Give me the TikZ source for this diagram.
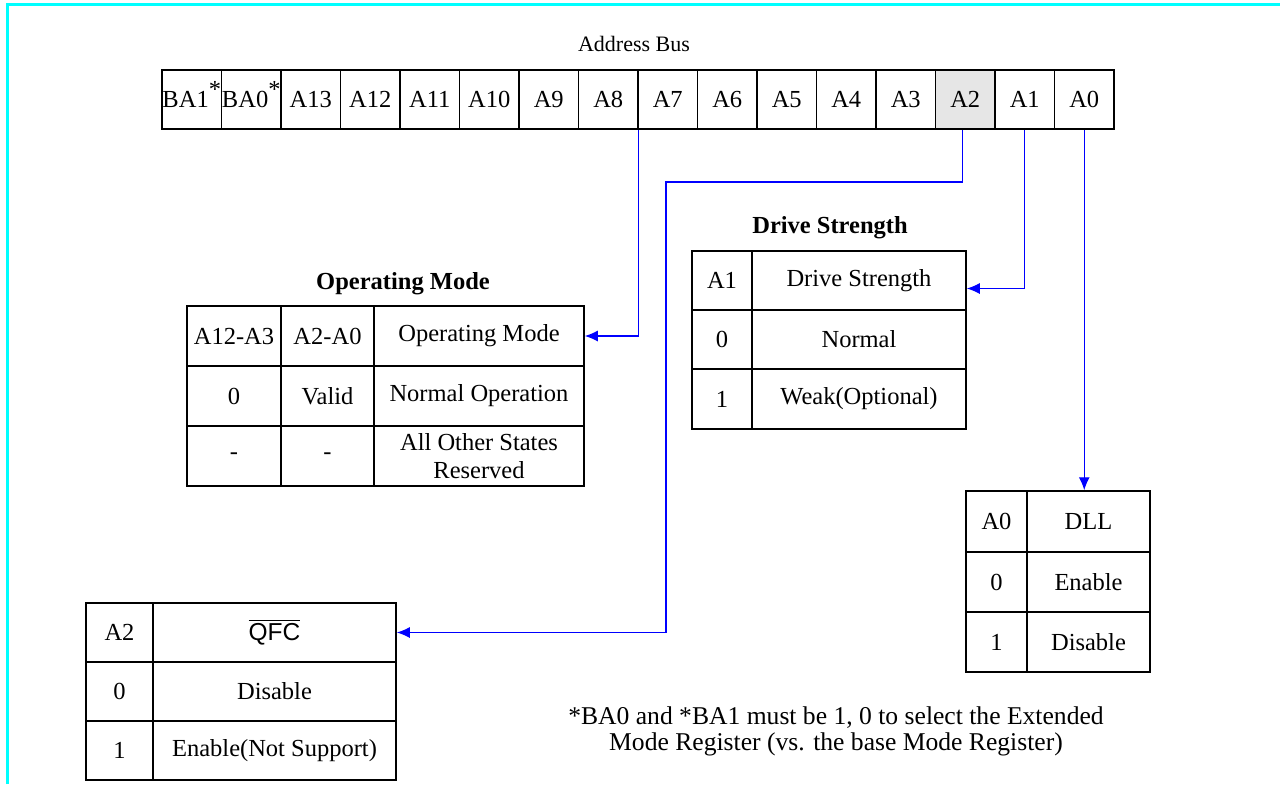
\documentclass[tikz,border=0pt]{standalone}
\usepackage{fontspec}
\setmainfont{Liberation Serif}
\newfontfamily\qfcfont{Liberation Sans}
\usetikzlibrary{arrows.meta}
\definecolor{cyanb}{RGB}{0,255,255}
\definecolor{arrowblue}{RGB}{0,0,255}
\definecolor{cellgray}{RGB}{230,230,230}
\newcommand{\tcell}[6]{%
  \pgfmathsetmacro{\tcw}{0.5*(#4-#2)}%
  \pgfmathsetmacro{\tch}{0.5*(#5-#3)}%
  \node[tcellst, minimum width=\tcw pt, minimum height=\tch pt] (#1) at ({(#2+#4)/2},{(#3+#5)/2}) {#6};}
\newcommand{\bast}{\smash{\raisebox{0.42em}{*}}}
\begin{document}
\begin{tikzpicture}[x=0.5pt,y=-0.5pt,
  every node/.style={font=\fontsize{12.25}{14}\selectfont},
  tcellst/.style={draw=black, line width=0.75pt, inner sep=0pt, align=center},
  buscell/.style={tcellst, minimum width=29.75pt, minimum height=29.5pt},
  ttl/.style={font=\fontsize{12.25}{14}\selectfont\bfseries},
  plain/.style={inner sep=0pt},
  arr/.style={draw=arrowblue, line width=0.65pt, -{Latex[length=6.5pt,width=5.5pt]}}]
\useasboundingbox (0,0) rectangle (1280,784);
% frame
\draw[cyanb, line width=1.5pt, line join=miter] (7.5,784) -- (7.5,4.5) -- (1280,4.5);
% address bus
\node[plain, font=\fontsize{11}{13}\selectfont] (bustitle) at (634,44) {Address Bus};
\foreach \t [count=\i from 0] in {BA1\bast,BA0\bast,A13,A12,A11,A10,A9,A8,A7,A6,A5,A4,A3}
  \node[buscell] (b\i) at ({162+59.5*(\i+0.5)},99.5) {\t};
\node[buscell, fill=cellgray] (b13) at ({162+59.5*13.5},99.5) {A2};
\node[buscell] (b14) at ({162+59.5*14.5},99.5) {A1};
\node[buscell] (b15) at ({162+59.5*15.5},99.5) {A0};
% operating mode table
\node[ttl] (omtitle) at (403,284) {Operating Mode};
\tcell{om11}{187}{306}{281}{366}{A12-A3}
\tcell{om12}{281}{306}{374}{366}{A2-A0}
\tcell{om13}{374}{306}{584}{366}{Operating Mode}
\tcell{om21}{187}{366}{281}{426}{0}
\tcell{om22}{281}{366}{374}{426}{Valid}
\tcell{om23}{374}{366}{584}{426}{Normal Operation}
\tcell{om31}{187}{426}{281}{486}{-}
\tcell{om32}{281}{426}{374}{486}{-}
\tcell{om33}{374}{426}{584}{486}{All Other States\\Reserved}
% drive strength table
\node[ttl] (dstitle) at (830,228) {Drive Strength};
\tcell{ds11}{692}{251}{752}{310}{A1}
\tcell{ds12}{752}{251}{966}{310}{Drive Strength}
\tcell{ds21}{692}{310}{752}{369}{0}
\tcell{ds22}{752}{310}{966}{369}{Normal}
\tcell{ds31}{692}{369}{752}{429}{1}
\tcell{ds32}{752}{369}{966}{429}{Weak(Optional)}
% QFC table
\tcell{qf11}{86}{603}{153}{662}{A2}
\tcell{qf12}{153}{603}{396}{662}{$\overline{\mbox{\qfcfont QFC}}$}
\tcell{qf21}{86}{662}{153}{721}{0}
\tcell{qf22}{153}{662}{396}{721}{Disable}
\tcell{qf31}{86}{721}{153}{780}{1}
\tcell{qf32}{153}{721}{396}{780}{Enable(Not Support)}
% DLL table
\tcell{dl11}{966}{491}{1027}{552}{A0}
\tcell{dl12}{1027}{491}{1150}{552}{DLL}
\tcell{dl21}{966}{552}{1027}{612}{0}
\tcell{dl22}{1027}{552}{1150}{612}{Enable}
\tcell{dl31}{966}{612}{1027}{672}{1}
\tcell{dl32}{1027}{612}{1150}{672}{Disable}
% footnote
\node[plain, font=\fontsize{12.8}{15}\selectfont] (fn1) at (836,718) {*BA0 and *BA1 must be 1, 0 to select the Extended};
\node[plain, font=\fontsize{12.8}{15}\selectfont] (fn2) at (836,744) {Mode Register (vs. the base Mode Register)};
% connectors
\coordinate (k1) at (666,182);
\draw[arr] (b7.south east) |- (om13.east);
\draw[arr] ([xshift=-1.5pt]b13.south) |- (k1) |- (qf12.east);
\draw[arr] (b14.south) |- ([yshift=-4pt]ds12.east);
\draw[arr] (b15.south) -- (b15.south |- dl12.north);
\end{tikzpicture}
\end{document}
